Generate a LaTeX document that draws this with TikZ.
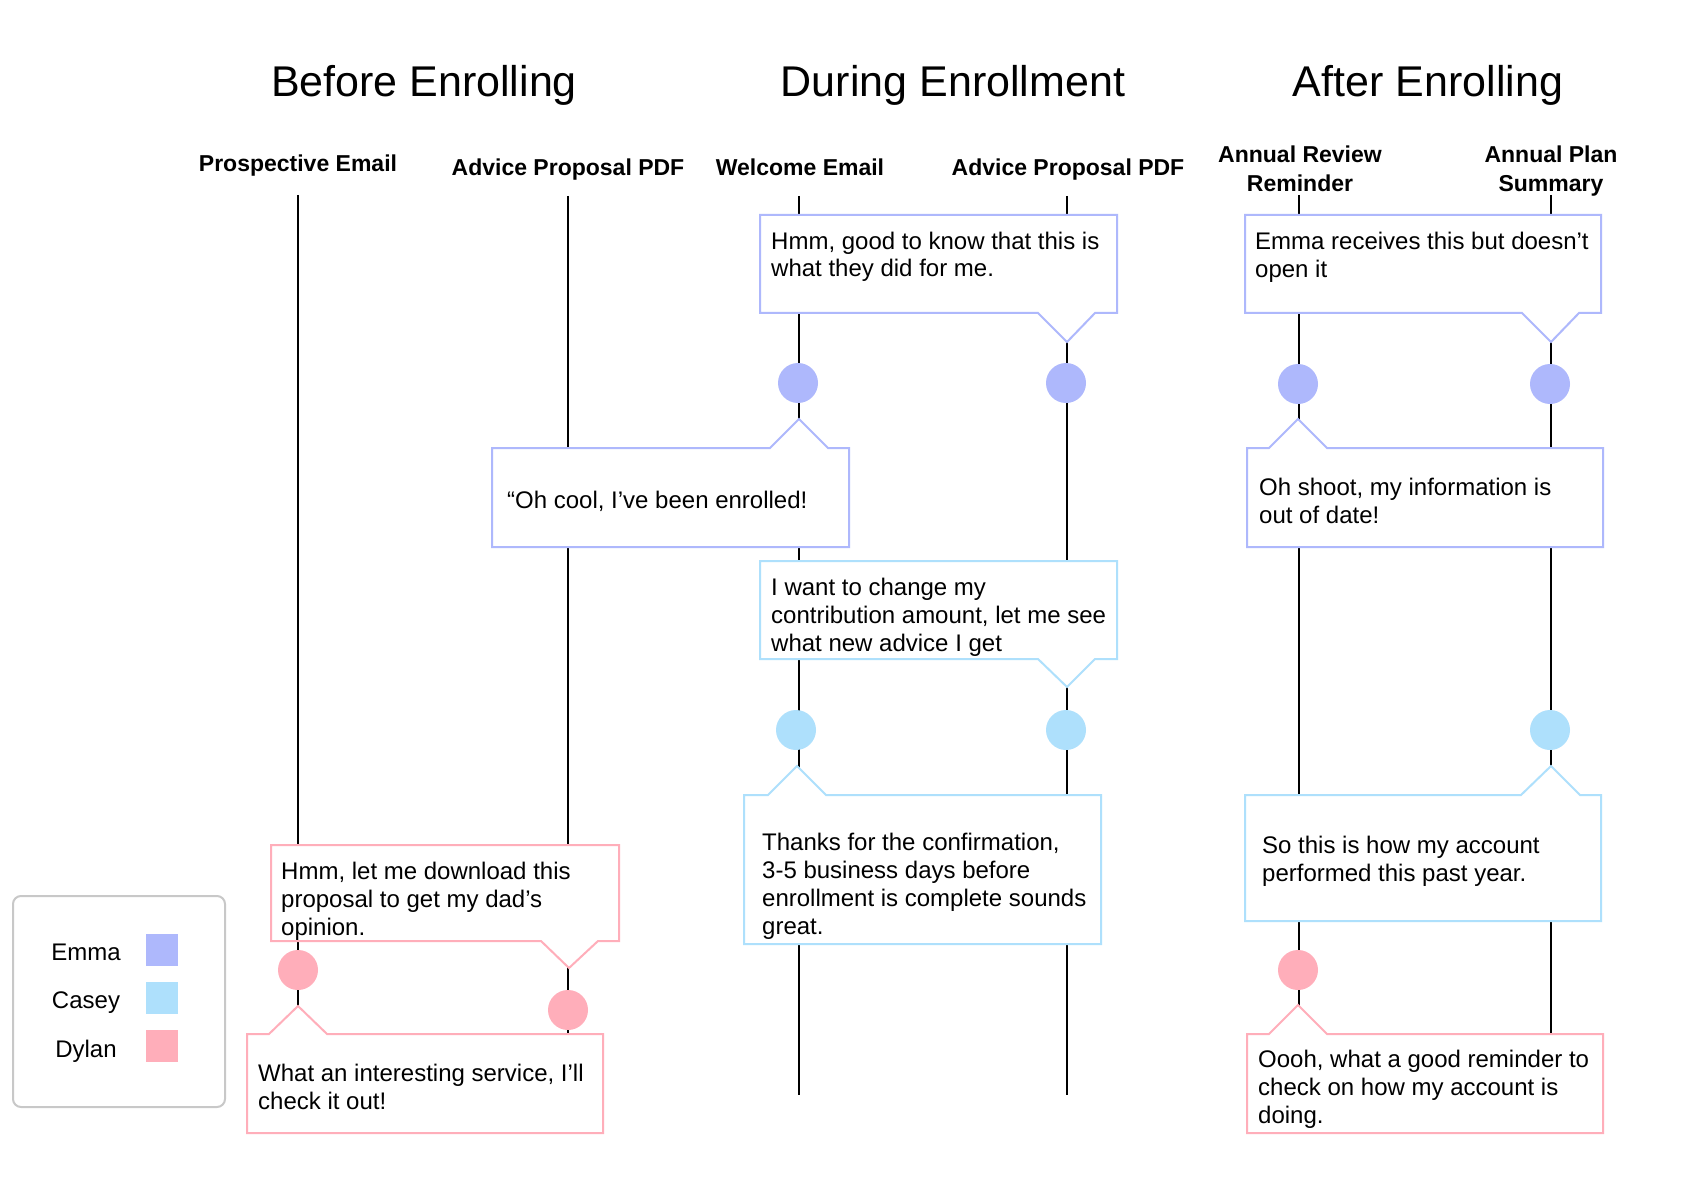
\documentclass[tikz,border=0pt]{standalone}
\usepackage{fontspec}
\setmainfont{Liberation Sans}
\definecolor{emma}{HTML}{AEB8FC}
\definecolor{casey}{HTML}{AEE0FC}
\definecolor{dylan}{HTML}{FFAEBA}
\definecolor{legendgray}{HTML}{C8C8C8}
\begin{document}
\begin{tikzpicture}[x=1pt,y=-1pt,
  vline/.style={line width=2pt, black},
  bubble/.style={line width=2pt, fill=white, line join=miter},
  dot/.style={circle, inner sep=0pt, minimum size=40pt, draw=none},
  txt/.style={anchor=base west, inner sep=0pt, align=left, font=\fontsize{24}{28}\selectfont},
  hdr/.style={anchor=base, inner sep=0pt, align=center, font=\fontsize{23}{29}\selectfont\bfseries},
  ttl/.style={anchor=base, inner sep=0pt, font=\fontsize{43}{50}\selectfont},
  lbl/.style={anchor=base, inner sep=0pt, font=\fontsize{24}{28}\selectfont},
  swatch/.style={draw=none, inner sep=0pt, minimum size=32pt}]
\useasboundingbox (0,0) rectangle (1684,1190);
\fill[white] (0,0) rectangle (1684,1190);

% titles
\node[ttl] (t1) at (424,97) {Before Enrolling};
\node[ttl] (t2) at (953,97) {During Enrollment};
\node[ttl] (t3) at (1428,97) {After Enrolling};

% headers (base anchor = baseline of last line)
\node[hdr] (h1) at (298,172) {Prospective Email};
\node[hdr] (h2) at (568,176) {Advice Proposal PDF};
\node[hdr] (h3) at (800,176) {Welcome Email};
\node[hdr] (h4) at (1068,176) {Advice Proposal PDF};
\node[hdr] (h5) at (1300,192) {Annual Review\\Reminder};
\node[hdr] (h6) at (1551,192) {Annual Plan\\Summary};

% lifelines
\coordinate (c1t) at (298,195);  \coordinate (c1b) at (298,1020);
\coordinate (c2t) at (568,196);  \coordinate (c2b) at (568,1034);
\coordinate (c3t) at (799,196);  \coordinate (c3b) at (799,1095);
\coordinate (c4t) at (1067,196); \coordinate (c4b) at (1067,1095);
\coordinate (c5t) at (1299,195); \coordinate (c5b) at (1299,1020);
\coordinate (c6t) at (1551,195); \coordinate (c6b) at (1551,1034);
\foreach \c in {c1,c2,c3,c4,c5,c6} \draw[vline] (\c t) -- (\c b);

% callouts
% A: Emma, down tip at c4
\draw[bubble, draw=emma] (760,215) -- (1117,215) -- (1117,313) -- (1095,313) -- (1067,342) -- (1038,313) -- (760,313) -- cycle;
\node[txt] (ta) at (771,277) {Hmm, good to know that this is\\what they did for me.};
% B: Emma, up tip at c3
\draw[bubble, draw=emma] (492,448) -- (770,448) -- (799,419) -- (828,448) -- (849,448) -- (849,547) -- (492,547) -- cycle;
\node[txt] (tb) at (507,508) {“Oh cool, I’ve been enrolled!};
% C: Casey, down tip at c4
\draw[bubble, draw=casey] (760,561) -- (1117,561) -- (1117,659) -- (1095,659) -- (1067,687) -- (1038,659) -- (760,659) -- cycle;
\node[txt] (tc) at (771,651) {I want to change my\\contribution amount, let me see\\what new advice I get};
% D: Casey, up tip at c3
\draw[bubble, draw=casey] (744,795) -- (768,795) -- (797,766) -- (826,795) -- (1101,795) -- (1101,944) -- (744,944) -- cycle;
\node[txt] (td) at (762,934) {Thanks for the confirmation,\\3-5 business days before\\enrollment is complete sounds\\great.};
% E: Emma, down tip at c6
\draw[bubble, draw=emma] (1245,215) -- (1601,215) -- (1601,313) -- (1579,313) -- (1551,342) -- (1522,313) -- (1245,313) -- cycle;
\node[txt] (te) at (1255,278) {Emma receives this but doesn’t\\open it};
% F: Emma, up tip at c5
\draw[bubble, draw=emma] (1247,448) -- (1269,448) -- (1298,419) -- (1327,448) -- (1603,448) -- (1603,547) -- (1247,547) -- cycle;
\node[txt] (tf) at (1259,523) {Oh shoot, my information is\\out of date!};
% G: Casey, up tip at c6
\draw[bubble, draw=casey] (1245,795) -- (1521,795) -- (1551,766) -- (1580,795) -- (1601,795) -- (1601,921) -- (1245,921) -- cycle;
\node[txt] (tg) at (1262,881) {So this is how my account\\performed this past year.};
% H: Dylan, up tip at c5
\draw[bubble, draw=dylan] (1247,1034) -- (1269,1034) -- (1298,1005) -- (1327,1034) -- (1603,1034) -- (1603,1133) -- (1247,1133) -- cycle;
\node[txt] (th) at (1258,1123) {Oooh, what a good reminder to\\check on how my account is\\doing.};
% I: Dylan, down tip at c2
\draw[bubble, draw=dylan] (271,845) -- (619,845) -- (619,941) -- (598,941) -- (569,968) -- (541,941) -- (271,941) -- cycle;
\node[txt] (ti) at (281,935) {Hmm, let me download this\\proposal to get my dad’s\\opinion.};
% J: Dylan, up tip at c1
\draw[bubble, draw=dylan] (247,1034) -- (269,1034) -- (298,1006) -- (327,1034) -- (603,1034) -- (603,1133) -- (247,1133) -- cycle;
\node[txt] (tj) at (258,1109) {What an interesting service, I’ll\\check it out!};

% dots
\node[dot, fill=emma] (e1) at (798,383) {};
\node[dot, fill=emma] (e2) at (1066,383) {};
\node[dot, fill=emma] (e3) at (1298,384) {};
\node[dot, fill=emma] (e4) at (1550,384) {};
\node[dot, fill=casey] (k1) at (796,730) {};
\node[dot, fill=casey] (k2) at (1066,730) {};
\node[dot, fill=casey] (k3) at (1550,730) {};
\node[dot, fill=dylan] (d1) at (298,970) {};
\node[dot, fill=dylan] (d2) at (568,1010) {};
\node[dot, fill=dylan] (d3) at (1298,970) {};

% legend
\draw[legendgray, line width=2pt, rounded corners=8pt] (13,896) rectangle (225,1107);
\node[lbl] (le) at (86,960) {Emma};
\node[lbl] (lc) at (86,1008) {Casey};
\node[lbl] (ld) at (86,1057) {Dylan};
\node[swatch, fill=emma] (se) at (162,950) {};
\node[swatch, fill=casey] (sc) at (162,998) {};
\node[swatch, fill=dylan] (sd) at (162,1046) {};
\end{tikzpicture}
\end{document}
